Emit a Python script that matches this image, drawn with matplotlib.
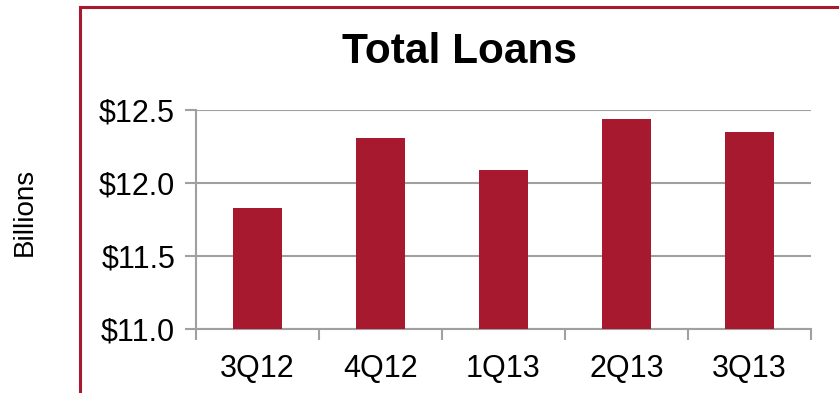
import matplotlib.pyplot as plt
from matplotlib.patches import Rectangle

quarters = ['3Q12', '4Q12', '1Q13', '2Q13', '3Q13']
loans = [11.83, 12.31, 12.09, 12.44, 12.35]
yticks = [11.0, 11.5, 12.0, 12.5]

red = '#A6192E'
grid_gray = '#A0A0A0'

plt.rcParams['font.family'] = ['Liberation Sans', 'DejaVu Sans']

fig = plt.figure(figsize=(8.39, 3.93), dpi=100)

# frame around the chart, open past the right and bottom edges
fig.patches.append(Rectangle((80 / 839, -0.2), 1.5, 1 - 7 / 393 + 0.2,
                             transform=fig.transFigure, fill=False,
                             edgecolor=red, linewidth=2.2))

ax = fig.add_axes([196 / 839, 1 - 329 / 393, 615 / 839, 219 / 393])
x = range(len(quarters))
ax.bar(x, [v - 11.0 for v in loans], bottom=11.0, width=0.4, color=red, zorder=3)

ax.set_xlim(-0.5, len(quarters) - 0.5)
ax.set_ylim(11.0, 12.5)
ax.set_yticks(yticks)
ax.set_yticklabels(['${:.1f}'.format(v) for v in yticks])
ax.set_xticks(list(x))
ax.set_xticklabels(quarters)
ax.set_xticks([i - 0.5 for i in range(len(quarters) + 1)], minor=True)

ax.yaxis.grid(True, color=grid_gray, linewidth=1.5, zorder=0)
for s in ['top', 'right']:
    ax.spines[s].set_visible(False)
for s in ['left', 'bottom']:
    ax.spines[s].set_color(grid_gray)
    ax.spines[s].set_linewidth(1.5)

ax.tick_params(axis='y', which='major', length=8, width=1.5, color=grid_gray,
               labelsize=22, pad=7)
ax.tick_params(axis='x', which='major', length=0, labelsize=22, pad=18)
ax.tick_params(axis='x', which='minor', length=8, width=1.5, color=grid_gray)

fig.text(460 / 839, 1 - 52 / 393, 'Total Loans', ha='center', va='center',
         fontsize=30.5, fontweight='bold')
fig.text(25 / 839, 1 - 212 / 393, 'Billions', ha='center', va='center',
         rotation=90, fontsize=20)

fig.savefig('out.png', dpi=100)
